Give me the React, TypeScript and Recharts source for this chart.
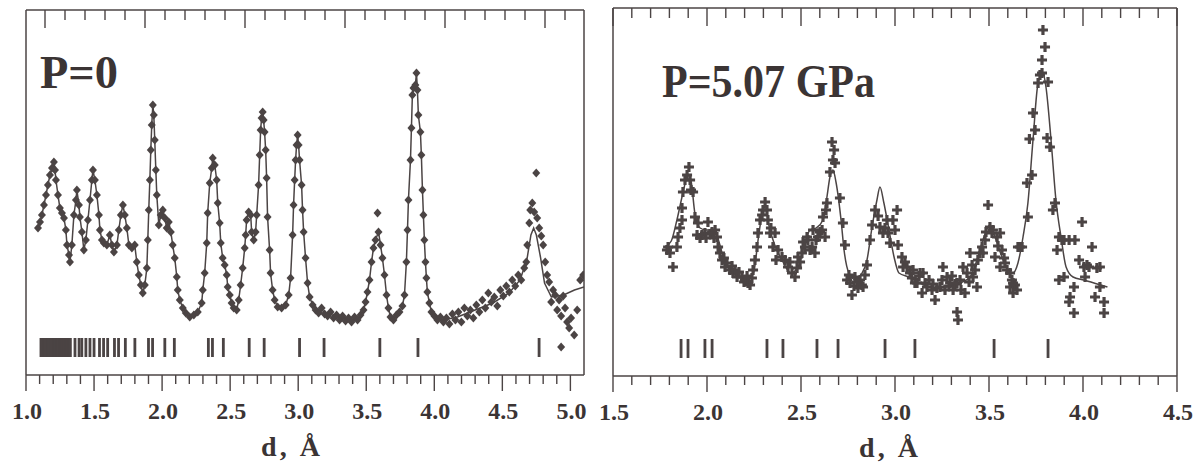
import React from 'react';
import { ComposedChart, XAxis, YAxis, Line, Scatter, Label } from 'recharts';

const INK = '#4b4444';
const TEXT = '#3b3434';
const FONT = '"Liberation Serif", "Times New Roman", serif';

// ---------- axis ticks / labels ----------
const leftMajorTicks = [1.0, 1.5, 2.0, 2.5, 3.0, 3.5, 4.0, 4.5, 5.0];
const leftMajorLabels = ['1.0', '1.5', '2.0', '2.5', '3.0', '3.5', '4.0', '4.5', '5.0'];
const rightMajorTicks = [1.5, 2.0, 2.5, 3.0, 3.5, 4.0, 4.5];
const rightMajorLabels = ['1.5', '2.0', '2.5', '3.0', '3.5', '4.0', '4.5'];
const leftMinorTicks = Array.from({ length: 41 }, (_, i) => Math.round((1.0 + i * 0.1) * 10) / 10);
const rightMinorTicks = Array.from({ length: 31 }, (_, i) => Math.round((1.5 + i * 0.1) * 10) / 10);
const leftTopTicks = Array.from({ length: 27 }, (_, i) => i);

// ---------- P = 0 : observed (diamonds), d [Å] vs intensity ----------
const leftObs: [number, number][] = [
  [1.088, 147], [1.103, 153], [1.117, 160], [1.132, 170], [1.147, 180], [1.161, 190], [1.176, 200], [1.191, 207],
  [1.205, 213], [1.213, 205], [1.220, 195], [1.235, 180], [1.249, 167], [1.264, 162], [1.279, 157], [1.293, 145],
  [1.301, 130], [1.316, 120], [1.323, 113], [1.337, 130], [1.352, 160], [1.367, 175], [1.374, 185], [1.389, 170],
  [1.396, 158], [1.411, 143], [1.425, 125], [1.440, 135], [1.455, 155], [1.470, 175], [1.484, 195], [1.492, 205],
  [1.506, 195], [1.521, 180], [1.536, 160], [1.543, 145], [1.558, 135], [1.572, 132], [1.594, 130], [1.616, 140],
  [1.631, 130], [1.646, 123], [1.668, 130], [1.682, 145], [1.697, 160], [1.712, 170], [1.726, 160], [1.741, 147],
  [1.756, 130], [1.778, 127], [1.799, 130], [1.814, 113], [1.829, 100], [1.844, 90], [1.858, 82], [1.873, 90],
  [1.888, 107], [1.895, 135], [1.902, 165], [1.910, 195], [1.917, 225], [1.924, 250], [1.932, 270], [1.939, 260],
  [1.946, 235], [1.954, 205], [1.961, 180], [1.976, 150], [1.990, 160], [2.005, 165], [2.020, 157], [2.034, 147],
  [2.049, 153], [2.064, 143], [2.078, 130], [2.093, 117], [2.108, 98], [2.115, 85], [2.130, 75], [2.152, 67],
  [2.174, 62], [2.203, 58], [2.233, 60], [2.262, 63], [2.291, 72], [2.299, 85], [2.313, 102], [2.328, 132],
  [2.335, 162], [2.350, 192], [2.365, 207], [2.372, 217], [2.387, 210], [2.401, 195], [2.409, 172], [2.423, 152],
  [2.431, 132], [2.445, 117], [2.460, 110], [2.475, 100], [2.482, 88], [2.497, 80], [2.511, 72], [2.526, 67],
  [2.548, 65], [2.563, 75], [2.577, 90], [2.592, 107], [2.607, 127], [2.614, 140], [2.621, 155], [2.636, 163],
  [2.651, 160], [2.658, 143], [2.673, 135], [2.687, 143], [2.695, 160], [2.709, 190], [2.717, 220], [2.724, 245],
  [2.731, 257], [2.739, 263], [2.746, 255], [2.753, 243], [2.761, 225], [2.768, 197], [2.775, 158], [2.790, 125],
  [2.797, 102], [2.812, 85], [2.827, 75], [2.849, 68], [2.878, 67], [2.908, 70], [2.930, 80], [2.944, 97],
  [2.959, 140], [2.966, 170], [2.974, 195], [2.981, 215], [2.988, 230], [2.996, 240], [3.003, 230], [3.010, 215],
  [3.025, 190], [3.032, 165], [3.040, 143], [3.054, 117], [3.069, 92], [3.084, 78], [3.106, 70], [3.128, 65],
  [3.150, 62], [3.172, 67], [3.194, 61], [3.216, 59], [3.238, 63], [3.260, 57], [3.282, 60], [3.304, 55],
  [3.326, 59], [3.348, 54], [3.370, 57], [3.392, 53], [3.414, 58], [3.436, 55], [3.458, 60], [3.480, 65],
  [3.495, 73], [3.509, 83], [3.524, 95], [3.539, 113], [3.553, 127], [3.568, 135], [3.590, 143], [3.605, 130],
  [3.619, 117], [3.634, 100], [3.649, 80], [3.663, 67], [3.678, 58], [3.700, 55], [3.722, 60], [3.744, 63],
  [3.766, 69], [3.781, 80], [3.795, 113], [3.803, 145], [3.810, 175], [3.825, 215], [3.832, 247], [3.839, 280],
  [3.847, 287], [3.861, 290], [3.869, 302], [3.876, 285], [3.883, 260], [3.898, 243], [3.905, 220], [3.913, 185],
  [3.920, 160], [3.927, 135], [3.935, 113], [3.942, 97], [3.949, 83], [3.964, 72], [3.979, 63], [4.001, 59],
  [4.023, 55], [4.045, 58], [4.067, 53],
];
const leftObsTail: [number, number][] = [
  [4.089, 57], [4.111, 51], [4.133, 61], [4.155, 55], [4.177, 63], [4.199, 53], [4.221, 67], [4.243, 59],
  [4.265, 65], [4.287, 57], [4.309, 70], [4.331, 63], [4.353, 75], [4.375, 67], [4.397, 82], [4.419, 73],
  [4.441, 78], [4.463, 69], [4.485, 85], [4.507, 79], [4.529, 89], [4.551, 83], [4.573, 95], [4.595, 89],
  [4.617, 100], [4.639, 95], [4.661, 107], [4.676, 113], [4.683, 130], [4.698, 152], [4.705, 165], [4.720, 172],
  [4.734, 163], [4.756, 157], [4.771, 147], [4.786, 139], [4.800, 130], [4.815, 113], [4.829, 100], [4.844, 93],
  [4.859, 73], [4.873, 85], [4.888, 80], [4.903, 65], [4.917, 75], [4.932, 59], [4.947, 79], [4.961, 67],
  [4.976, 53], [4.991, 47], [5.005, 57], [5.028, 40], [5.050, 65], [5.072, 95], [5.094, 100],
];
const leftObsExtra: [number, number][] = [[3.583, 162], [4.749, 202], [4.932, 28]];
const leftCalcTail: [number, number][] = [
  [4.067, 55], [4.17, 58], [4.30, 65], [4.43, 72], [4.55, 82], [4.63, 95], [4.68, 115], [4.71, 140],
  [4.73, 147], [4.75, 140], [4.78, 118], [4.81, 92], [4.86, 78], [4.95, 80], [5.03, 85], [5.1, 88],
];
const leftReflections = [
  1.110, 1.118, 1.126, 1.134, 1.142, 1.150, 1.158, 1.166, 1.174, 1.182, 1.190, 1.198, 1.206, 1.214,
  1.222, 1.230, 1.238, 1.246, 1.254, 1.262, 1.270, 1.278, 1.286, 1.294, 1.302, 1.310, 1.318, 1.326,
  1.36, 1.39, 1.41, 1.44, 1.47, 1.50, 1.54, 1.57, 1.60, 1.65, 1.68, 1.73, 1.80, 1.90, 1.93, 2.02, 2.09,
  2.34, 2.37, 2.45, 2.64, 2.75, 3.01, 3.19, 3.60, 3.88, 4.77,
];

// ---------- P = 5.07 GPa : observed (crosses) and calculated ----------
const rightObs: [number, number][] = [
  [1.787, 126], [1.793, 129], [1.803, 123], [1.819, 109], [1.840, 129], [1.846, 139], [1.856, 148], [1.867, 156],
  [1.867, 168], [1.872, 184], [1.883, 196], [1.894, 201], [1.904, 209], [1.910, 196], [1.915, 186], [1.926, 184],
  [1.936, 159], [1.947, 141], [1.952, 153], [1.963, 138], [1.973, 141], [1.989, 143], [1.995, 138], [2.005, 154],
  [2.016, 142], [2.027, 144], [2.037, 138], [2.043, 146], [2.053, 139], [2.059, 129], [2.069, 123], [2.080, 116],
  [2.090, 118], [2.096, 109], [2.106, 113], [2.122, 106], [2.133, 110], [2.138, 103], [2.149, 106], [2.160, 99],
  [2.170, 104], [2.186, 99], [2.197, 94], [2.202, 96], [2.213, 100], [2.218, 93], [2.229, 91], [2.239, 98],
  [2.245, 106], [2.255, 116], [2.266, 129], [2.271, 143], [2.282, 156], [2.293, 161], [2.298, 166], [2.309, 174],
  [2.319, 166], [2.324, 156], [2.335, 143], [2.340, 148], [2.351, 129], [2.362, 143], [2.367, 116], [2.378, 126],
  [2.399, 119], [2.415, 116], [2.431, 109], [2.441, 114], [2.452, 103], [2.468, 99], [2.479, 108], [2.484, 119],
  [2.495, 114], [2.505, 123], [2.511, 134], [2.521, 129], [2.532, 139], [2.537, 136], [2.548, 126], [2.559, 129],
  [2.564, 146], [2.574, 123], [2.580, 136], [2.590, 139], [2.601, 144], [2.612, 146], [2.617, 159], [2.628, 139],
  [2.633, 166], [2.638, 173], [2.654, 204], [2.665, 234], [2.676, 226], [2.670, 216], [2.681, 213], [2.707, 178],
  [2.723, 153], [2.734, 131], [2.745, 96], [2.755, 101], [2.761, 93], [2.771, 81], [2.782, 90], [2.787, 99],
  [2.798, 94], [2.803, 88], [2.814, 96], [2.824, 91], [2.830, 89], [2.840, 101], [2.851, 111], [2.867, 136],
  [2.878, 151], [2.894, 166], [2.910, 160], [2.920, 149], [2.936, 143], [2.947, 148], [2.957, 156], [2.963, 143],
  [2.973, 133], [2.989, 156], [3.000, 146], [3.011, 166], [3.016, 131], [3.037, 119], [3.043, 109], [3.053, 114],
  [3.064, 109], [3.080, 103], [3.090, 98], [3.096, 106], [3.106, 93], [3.117, 93], [3.128, 100], [3.133, 103],
  [3.144, 83], [3.149, 103], [3.160, 93], [3.170, 89], [3.181, 96], [3.197, 86], [3.202, 92], [3.213, 76],
  [3.223, 88], [3.239, 89], [3.250, 96], [3.255, 109], [3.266, 86], [3.277, 99], [3.287, 90], [3.293, 93],
  [3.303, 100], [3.309, 86], [3.319, 92], [3.330, 93], [3.330, 64], [3.335, 56], [3.346, 96], [3.351, 86],
  [3.362, 109], [3.372, 83], [3.383, 103], [3.394, 94], [3.399, 123], [3.410, 111], [3.415, 99], [3.426, 106],
  [3.436, 89], [3.441, 116], [3.452, 123], [3.463, 129], [3.468, 123], [3.479, 136], [3.484, 144], [3.495, 171],
  [3.505, 149], [3.516, 143], [3.521, 146], [3.532, 119], [3.543, 139], [3.548, 130], [3.559, 143], [3.559, 109],
  [3.569, 126], [3.580, 118], [3.585, 113], [3.596, 106], [3.612, 103], [3.612, 89], [3.622, 96], [3.628, 93],
  [3.628, 83], [3.638, 91], [3.649, 86], [3.654, 129], [3.665, 129], [3.676, 129], [3.702, 193], [3.707, 159],
  [3.715, 237], [3.729, 201], [3.734, 263], [3.745, 246], [3.761, 293], [3.771, 301], [3.782, 303], [3.782, 316],
  [3.798, 329], [3.787, 346], [3.814, 294], [3.809, 238], [3.824, 229], [3.840, 166], [3.851, 173], [3.862, 126],
  [3.872, 139], [3.888, 136], [3.899, 136], [3.926, 136], [3.872, 96], [3.899, 99], [3.931, 79], [3.926, 74],
  [3.952, 89], [3.952, 63], [3.957, 136], [3.979, 116], [3.995, 154], [4.005, 109], [4.011, 99], [4.021, 111],
  [4.032, 109], [4.048, 129], [4.064, 79], [4.074, 108], [4.090, 109], [4.090, 89], [4.112, 74], [4.112, 63],
];
const rightCalc: [number, number][] = [
  [1.777, 129], [1.810, 135], [1.840, 156], [1.872, 183], [1.899, 201], [1.915, 195], [1.936, 162], [1.963, 148],
  [1.995, 146], [2.027, 146], [2.059, 137], [2.085, 120], [2.122, 106], [2.186, 98], [2.229, 98], [2.250, 105],
  [2.271, 135], [2.298, 166], [2.309, 169], [2.330, 150], [2.362, 130], [2.399, 116], [2.447, 103], [2.484, 109],
  [2.521, 133], [2.548, 146], [2.580, 148], [2.617, 156], [2.638, 179], [2.654, 199], [2.670, 206], [2.686, 194],
  [2.713, 156], [2.729, 126], [2.755, 103], [2.793, 96], [2.819, 101], [2.851, 116], [2.878, 149], [2.904, 176],
  [2.920, 189], [2.941, 173], [2.968, 146], [2.995, 119], [3.021, 103], [3.075, 99], [3.133, 93], [3.202, 88],
  [3.277, 89], [3.346, 93], [3.399, 99], [3.436, 116], [3.473, 139], [3.505, 151], [3.532, 139], [3.569, 119],
  [3.601, 106], [3.628, 103], [3.654, 113], [3.681, 139], [3.707, 173], [3.734, 236], [3.761, 293], [3.787, 303],
  [3.803, 289], [3.830, 236], [3.856, 176], [3.883, 139], [3.910, 109], [3.947, 99], [4.005, 96], [4.095, 91],
  [4.130, 89],
];
const rightReflections = [1.862, 1.899, 1.989, 2.027, 2.319, 2.404, 2.585, 2.697, 2.947, 3.106, 3.527, 3.814];

const REFLECTION_ROW = 27.5;

const toPts = (arr: [number, number][]) => arr.map(([d, I]) => ({ d, I }));
const leftObsPts = toPts([...leftObs, ...leftObsTail, ...leftObsExtra]);
const leftCalcPts = toPts([...leftObs, ...leftCalcTail]);
const leftReflPts = leftReflections.map((d) => ({ d, I: REFLECTION_ROW }));
const leftTopAnchorPts = leftTopTicks.map((t) => ({ t, I: REFLECTION_ROW }));
const rightObsPts = toPts(rightObs);
const rightCalcPts = toPts(rightCalc);
const rightReflPts = rightReflections.map((d) => ({ d, I: REFLECTION_ROW }));

// ---------- shapes ----------
const Diamond = (p: any) => {
  const { cx, cy } = p;
  if (cx == null || cy == null) return <g />;
  return <polygon points={`${cx},${cy - 4.6} ${cx + 4.0},${cy} ${cx},${cy + 4.6} ${cx - 4.0},${cy}`} fill={INK} />;
};
const Plus = (p: any) => {
  const { cx, cy } = p;
  if (cx == null || cy == null) return <g />;
  const a = 5.0;
  const t = 1.6;
  const s = a - t;
  return (
    <path
      d={`M${cx - t},${cy - a}h${2 * t}v${s}h${s}v${2 * t}h${-s}v${s}h${-2 * t}v${-s}h${-s}v${-2 * t}h${s}z`}
      fill={INK}
    />
  );
};
const ReflBar = (p: any) => {
  const { cx, cy } = p;
  if (cx == null || cy == null) return <g />;
  return <rect x={cx - 1.4} y={cy - 9.5} width={2.8} height={19} fill={INK} />;
};
const Empty = () => <g />;

function makeBottomTick(majors: number[], labels: string[]) {
  return (props: any) => {
    const { x, y, payload } = props;
    const idx = majors.findIndex((m) => Math.abs(m - payload.value) < 1e-6);
    const major = idx >= 0;
    return (
      <g>
        <line x1={x} x2={x} y1={y} y2={y + (major ? 16 : 9)} stroke={INK} strokeWidth={1.4} />
        {major && (
          <text x={x + 1} y={y + 44} textAnchor="middle" fontFamily={FONT} fontWeight="bold" fontSize={24} fill={TEXT}>
            {labels[idx]}
          </text>
        )}
      </g>
    );
  };
}
function makeTopTick(isMajor: (v: number) => boolean) {
  return (props: any) => {
    const { x, y, payload } = props;
    const major = isMajor(payload.value);
    return <line x1={x} x2={x} y1={y} y2={y + (major ? 18 : 10)} stroke={INK} strokeWidth={1.4} />;
  };
}

const axisLineStyle = { stroke: INK, strokeWidth: 1.5 };
const titleStyle = { fontFamily: FONT, fontWeight: 'bold', fontSize: 28, fill: TEXT, letterSpacing: 3 } as any;

export default function App() {
  return (
    <div style={{ position: 'absolute', left: 0, top: 0, width: 1196, height: 471, background: '#fff', overflow: 'hidden' }}>
      <div style={{ position: 'absolute', left: 0, top: 0 }}>
        <ComposedChart width={600} height={471} margin={{ top: 0, right: 15, bottom: 11, left: 25 }}>
          <XAxis
            xAxisId="b" type="number" dataKey="d" domain={[1.0, 5.1]} allowDataOverflow
            ticks={leftMinorTicks} interval={0} orientation="bottom" height={85}
            tickSize={0} tickMargin={0} tickLine={false} axisLine={axisLineStyle}
            tick={makeBottomTick(leftMajorTicks, leftMajorLabels)}
          >
            <Label value="d, Å" position="insideBottom" offset={4} dx={-13} style={titleStyle} />
          </XAxis>
          <XAxis
            xAxisId="t" type="number" dataKey="t" domain={[-0.95, 26.95]} allowDataOverflow
            ticks={leftTopTicks} interval={0} orientation="top" height={10}
            tickSize={0} tickMargin={0} tickLine={false} axisLine={axisLineStyle}
            tick={makeTopTick((v) => v % 5 === 0)}
          />
          <YAxis yAxisId="l" type="number" dataKey="I" domain={[0, 365]} allowDataOverflow width={1} tick={false} tickLine={false} axisLine={axisLineStyle} />
          <YAxis yAxisId="r" orientation="right" type="number" dataKey="I" domain={[0, 365]} allowDataOverflow width={1} tick={false} tickLine={false} axisLine={axisLineStyle} />
          <Line data={leftCalcPts} xAxisId="b" yAxisId="l" dataKey="I" type="linear" stroke={INK} strokeWidth={1.5} dot={false} isAnimationActive={false} />
          <Scatter data={leftObsPts} xAxisId="b" yAxisId="l" dataKey="I" shape={Diamond} isAnimationActive={false} />
          <Scatter data={leftReflPts} xAxisId="b" yAxisId="l" dataKey="I" shape={ReflBar} isAnimationActive={false} />
          <Scatter data={leftTopAnchorPts} xAxisId="t" yAxisId="r" dataKey="I" shape={Empty} isAnimationActive={false} />
        </ComposedChart>
      </div>
      <div style={{ position: 'absolute', left: 585, top: 0 }}>
        <ComposedChart width={611} height={471} margin={{ top: 0, right: 18, bottom: 10, left: 27 }}>
          <XAxis
            xAxisId="b" type="number" dataKey="d" domain={[1.5, 4.5]} allowDataOverflow
            ticks={rightMinorTicks} interval={0} orientation="bottom" height={85}
            tickSize={0} tickMargin={0} tickLine={false} axisLine={axisLineStyle}
            tick={makeBottomTick(rightMajorTicks, rightMajorLabels)}
          >
            <Label value="d, Å" position="insideBottom" offset={4} dx={-5} style={titleStyle} />
          </XAxis>
          <XAxis
            xAxisId="t" type="number" dataKey="d" domain={[1.5, 4.5]} allowDataOverflow
            ticks={rightMinorTicks} interval={0} orientation="top" height={8}
            tickSize={0} tickMargin={0} tickLine={false} axisLine={axisLineStyle}
            tick={makeTopTick((v) => Math.abs(v * 2 - Math.round(v * 2)) < 1e-6)}
          />
          <YAxis yAxisId="l" type="number" dataKey="I" domain={[0, 368]} allowDataOverflow width={1} tick={false} tickLine={false} axisLine={axisLineStyle} />
          <YAxis yAxisId="r" orientation="right" type="number" dataKey="I" domain={[0, 368]} allowDataOverflow width={1} tick={false} tickLine={false} axisLine={axisLineStyle} />
          <Line data={rightCalcPts} xAxisId="b" yAxisId="l" dataKey="I" type="monotone" stroke={INK} strokeWidth={1.5} dot={false} isAnimationActive={false} />
          <Scatter data={rightObsPts} xAxisId="b" yAxisId="l" dataKey="I" shape={Plus} isAnimationActive={false} />
          <Scatter data={rightReflPts} xAxisId="t" yAxisId="r" dataKey="I" shape={ReflBar} isAnimationActive={false} />
        </ComposedChart>
      </div>
      <svg width={1196} height={471} style={{ position: 'absolute', left: 0, top: 0, pointerEvents: 'none' }}>
        <text x={40} y={88} fontFamily={FONT} fontWeight="bold" fontSize={46} fill={TEXT} textLength={78} lengthAdjust="spacingAndGlyphs">P=0</text>
        <text x={662} y={97} fontFamily={FONT} fontWeight="bold" fontSize={46} fill={TEXT} textLength={213} lengthAdjust="spacingAndGlyphs">P=5.07 GPa</text>
      </svg>
    </div>
  );
}
